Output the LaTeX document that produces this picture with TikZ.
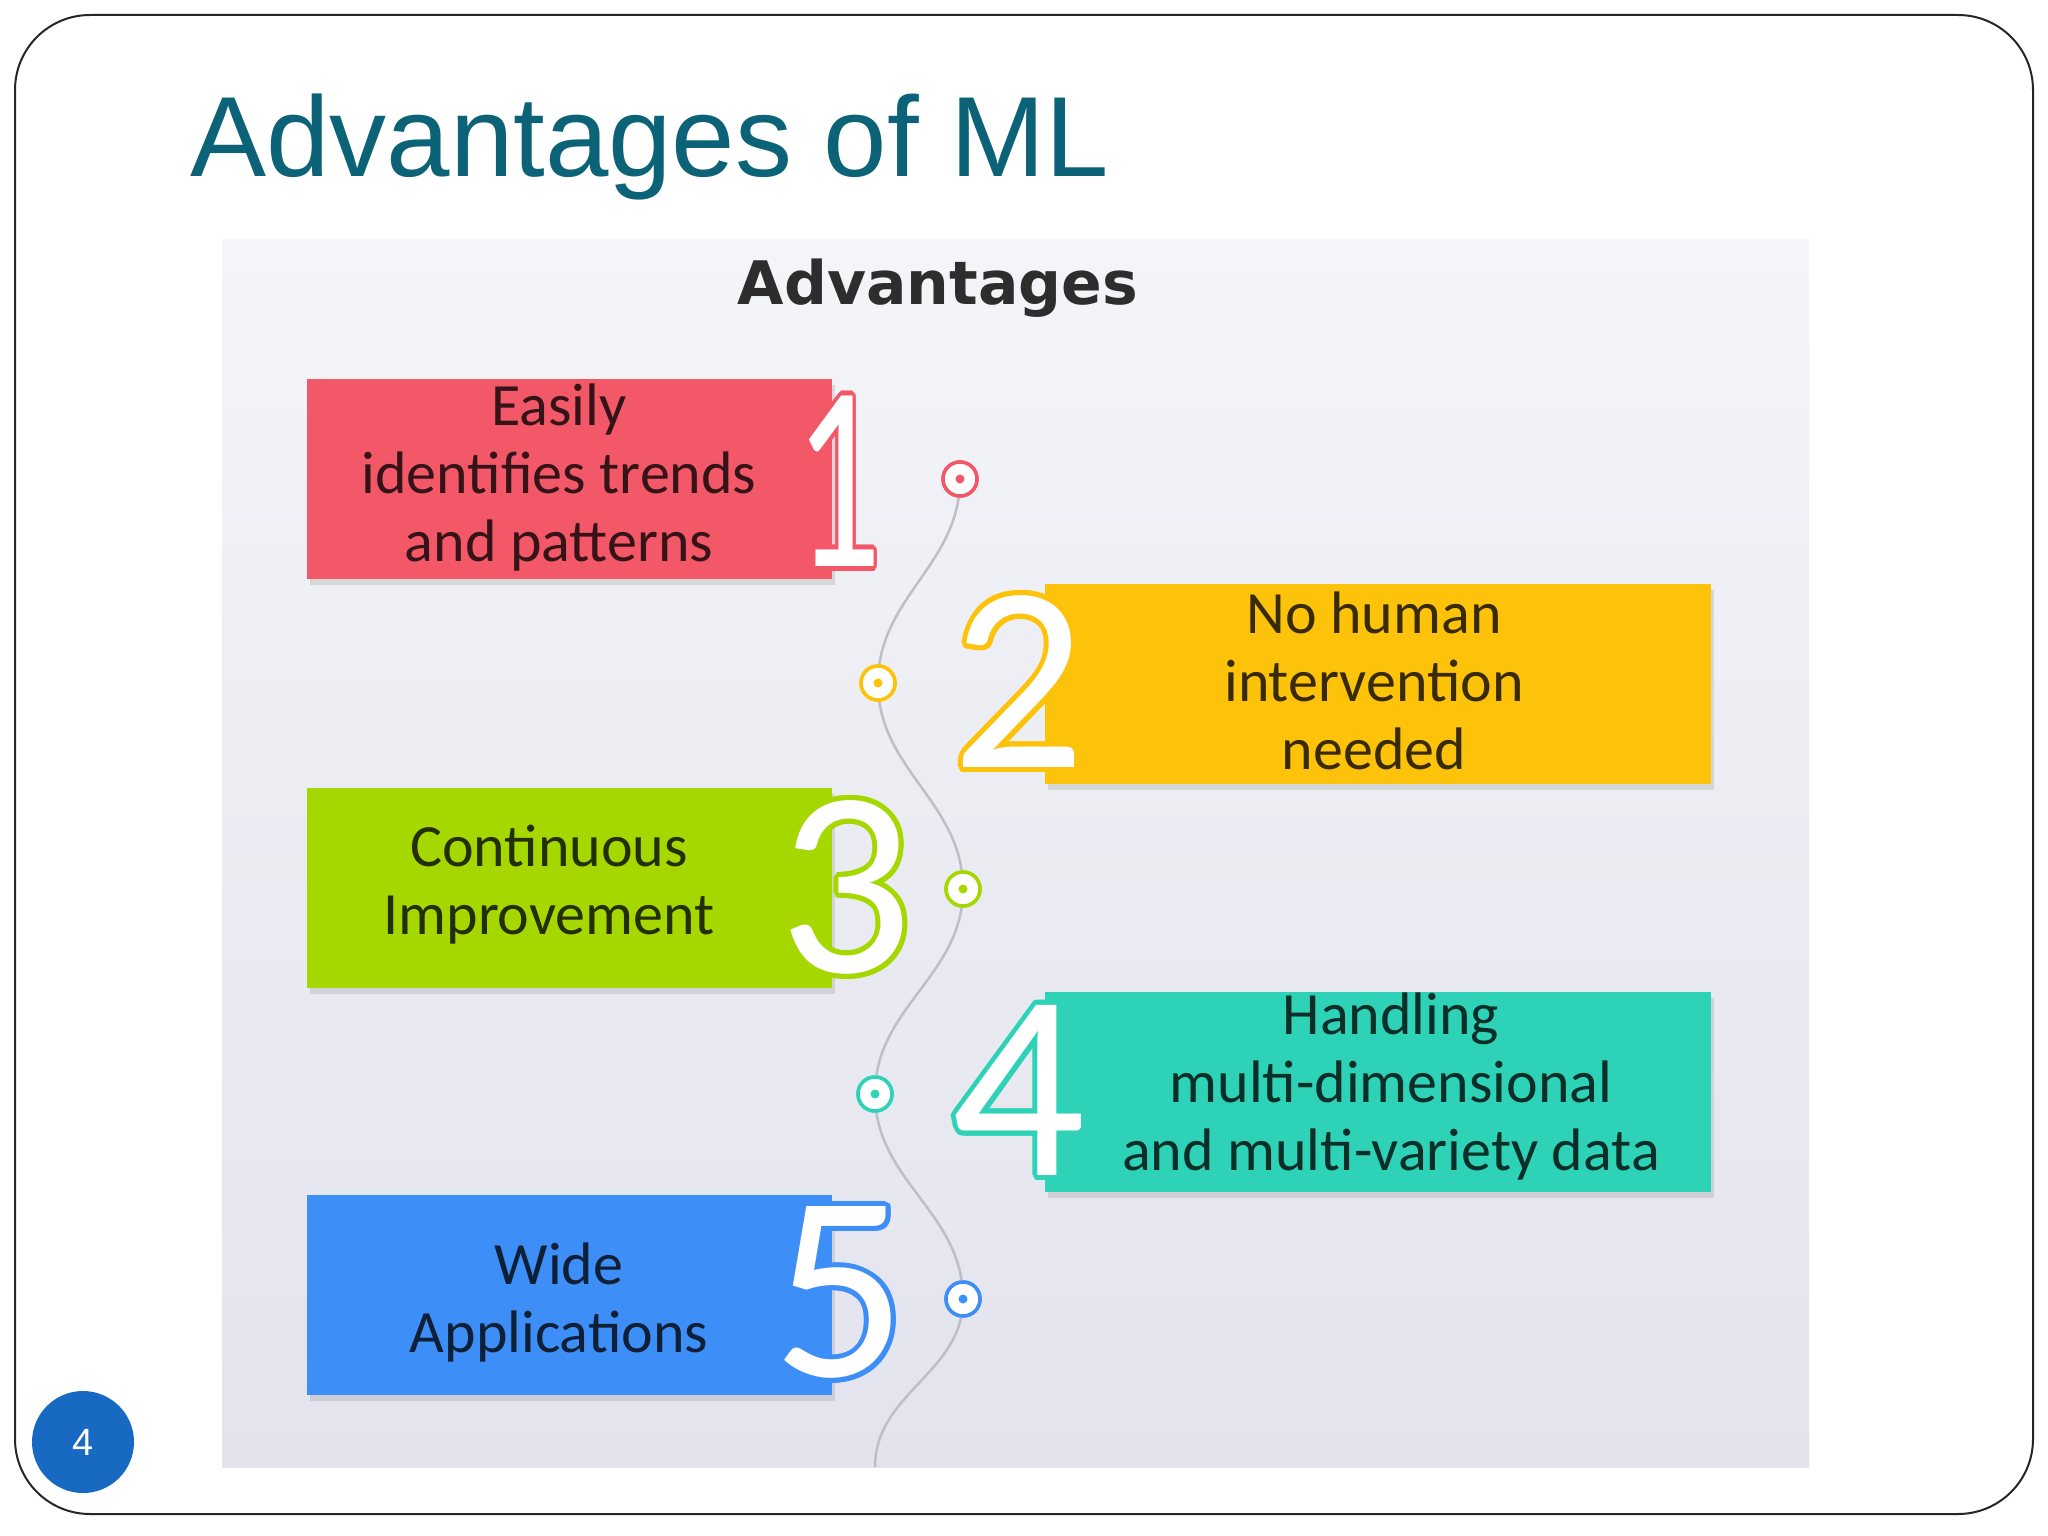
\documentclass[tikz,border=0pt]{standalone}
\usepackage{fontspec}
\setmainfont{Liberation Sans}
\newfontfamily\boxfont{Carlito}
\newfontfamily\headfont{DejaVu Sans}
\usepackage{contour}
\contourlength{5pt}
\usetikzlibrary{shadows}
\definecolor{titleblue}{RGB}{12,99,120}
\definecolor{cred}{RGB}{242,88,104}
\definecolor{cyellow}{RGB}{253,194,10}
\definecolor{cgreen}{RGB}{165,215,0}
\definecolor{cteal}{RGB}{46,211,183}
\definecolor{cblue}{RGB}{62,142,247}
\definecolor{paneltop}{RGB}{244,245,248}
\definecolor{panelbot}{RGB}{226,227,237}
\definecolor{wavegray}{RGB}{190,190,200}
\definecolor{pagecol}{RGB}{23,105,194}
\definecolor{headgray}{RGB}{45,45,45}
\tikzset{
  card/.style={rectangle, inner sep=0pt, fill=#1, minimum height=200pt,
    drop shadow={shadow xshift=3pt, shadow yshift=-6pt, opacity=0.22}},
  cardtext/.style={align=center, inner sep=0pt, font=\boxfont\fontsize{60}{68}\selectfont, text=#1!22!black},
  bignum/.style={inner sep=0pt, text=white, font=\boxfont\fontsize{265}{265}\selectfont},
  ring/.style={circle, draw=#1, line width=3.5pt, fill=white, minimum size=34pt, inner sep=0pt},
  wave/.style={draw=wavegray, line width=2.5pt}
}
\begin{document}
\begin{tikzpicture}[x=1pt,y=-1pt]
\useasboundingbox (0,0) rectangle (2048,1536);
\fill[white] (0,0) rectangle (2048,1536);
\draw[line width=2pt, black!85, rounded corners=75pt] (15,15) rectangle (2033,1514);

% title
\node[anchor=base west, inner sep=0pt, text=titleblue, font=\fontsize{114}{130}\selectfont] (title) at (190,176) {Advantages of ML};

% panel
\shade[top color=paneltop, bottom color=panelbot] (222,239) rectangle (1809,1467);
\node[anchor=base, inner sep=0pt, text=headgray, font=\headfont\bfseries\fontsize{60}{72}\selectfont] (head) at (938,304) {Advantages};

% wavy line
\coordinate (wend) at (875,1467);
\node[ring=cred] (d1) at (960,479) {};
\node[ring=cyellow] (d2) at (878,683) {};
\node[ring=cgreen] (d3) at (963,889) {};
\node[ring=cteal] (d4) at (875,1094) {};
\node[ring=cblue] (d5) at (963,1299) {};
\draw[wave] (d1.center) to[out=-90,in=90] (d2.center) to[out=-90,in=90] (d3.center)
  to[out=-90,in=90] (d4.center) to[out=-90,in=90] (d5.center) to[out=-90,in=90] (wend);
\foreach \d/\c in {d1/cred,d2/cyellow,d3/cgreen,d4/cteal,d5/cblue}{
  \node[ring=\c] at (\d) {};
  \fill[\c] (\d) circle (4.5pt);
}

% cards
\node[card=cred, minimum width=525pt] (b1) at (569.5,479) {};
\node[card=cyellow, minimum width=666pt] (b2) at (1378,684) {};
\node[card=cgreen, minimum width=525pt] (b3) at (569.5,888) {};
\node[card=cteal, minimum width=666pt] (b4) at (1378,1092) {};
\node[card=cblue, minimum width=525pt] (b5) at (569.5,1295) {};

% numbers
\node[bignum, xscale=0.65] (n1) at (838,484) {\contour{cred}{1}};
\node[bignum] (n2) at (1019,684) {\contour{cyellow}{2}};
\node[bignum] (n3) at (846,890) {\contour{cgreen}{3}};
\node[bignum] (n4) at (1019,1093) {\contour{cteal}{4}};
\node[bignum] (n5) at (840,1295) {\contour{cblue}{5}};

% texts
\node[cardtext=cred] (t1) at (559,477) {Easily\\identifies trends\\and patterns};
\node[cardtext=cyellow] (t2) at (1374,681) {No human\\intervention\\needed};
\node[cardtext=cgreen] (t3) at (549,885) {Continuous\\Improvement};
\node[cardtext=cteal] (t4) at (1391,1086) {Handling\\multi-dimensional\\and multi-variety data};
\node[cardtext=cblue] (t5) at (559,1302) {Wide\\Applications};

% page number
\node[circle, fill=pagecol, minimum size=102pt, inner sep=0pt, text=white, font=\fontsize{38}{40}\selectfont] (pg) at (83,1442) {4};
\end{tikzpicture}
\end{document}
